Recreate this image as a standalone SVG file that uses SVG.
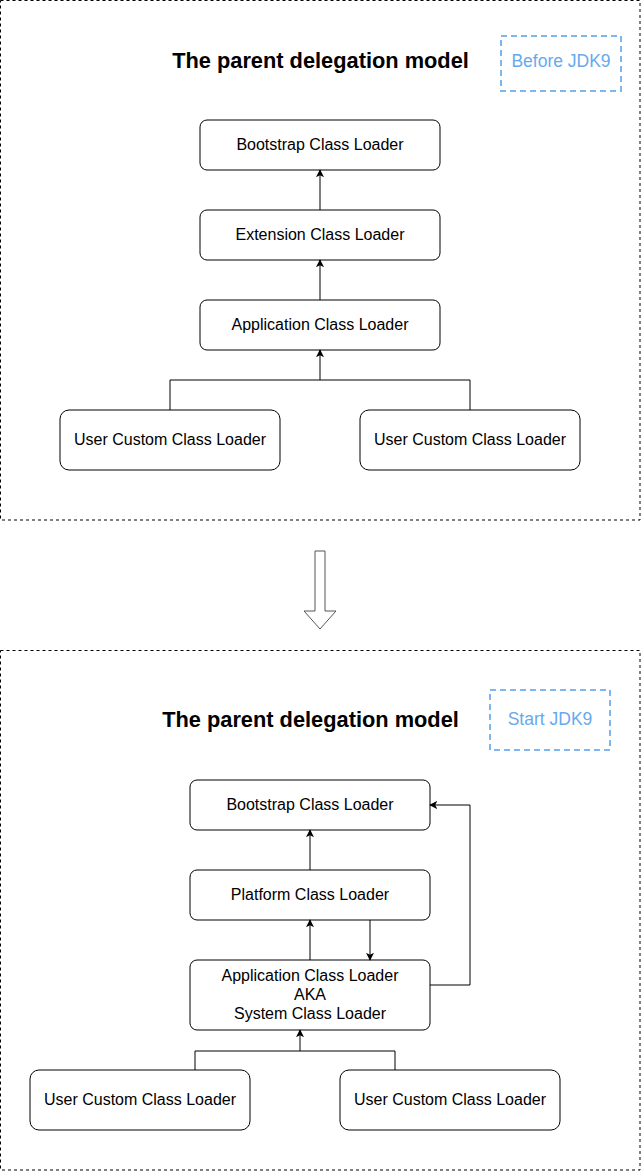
<svg xmlns="http://www.w3.org/2000/svg" width="641" height="1171" viewBox="0 0 641 1171">
<style>
.box{fill:#fff;stroke:#000;stroke-width:1}
.lbl{font-family:"Liberation Sans",Arial,sans-serif;font-size:16px;fill:#000;text-anchor:middle;dominant-baseline:central}
.title{font-family:"Liberation Sans",Arial,sans-serif;font-size:21.8px;font-weight:bold;fill:#000;text-anchor:middle;dominant-baseline:central}
.tag{fill:none;stroke:#7EB6EE;stroke-width:2;stroke-dasharray:6 4}
.tagt{font-family:"Liberation Sans",Arial,sans-serif;font-size:17.5px;fill:#66AAEE;text-anchor:middle;dominant-baseline:central}
.frame{fill:none;stroke:#000;stroke-width:1;stroke-dasharray:3 3}
.edge{fill:none;stroke:#000;stroke-width:1}
</style>
<defs>
<marker id="arr" viewBox="0 0 10 10" refX="9" refY="5" markerWidth="8" markerHeight="8" markerUnits="userSpaceOnUse" orient="auto">
<path d="M0,0 L10,5 L0,10 L2.5,5 Z" fill="#000"/>
</marker>
</defs>
<rect class="frame" x="0.5" y="0.5" width="639.5" height="519.5"/>
<rect class="frame" x="0.5" y="650.5" width="639.5" height="519.5"/>

<g id="title1"><text class="title" x="320.5" y="60">The parent delegation model</text></g>
<g id="tag1"><rect class="tag" x="501" y="36" width="120" height="55"/><text class="tagt" x="561" y="61">Before JDK9</text></g>

<g id="boot1"><rect class="box" x="200" y="120" width="240" height="50" rx="7"/><text class="lbl" x="320" y="144">Bootstrap Class Loader</text></g>
<g id="ext1"><rect class="box" x="200" y="210" width="240" height="50" rx="7"/><text class="lbl" x="320" y="234">Extension Class Loader</text></g>
<g id="app1"><rect class="box" x="200" y="300" width="240" height="50" rx="7"/><text class="lbl" x="320" y="324">Application Class Loader</text></g>
<g id="user1a"><rect class="box" x="60" y="410" width="220" height="60" rx="9"/><text class="lbl" x="170" y="439">User Custom Class Loader</text></g>
<g id="user1b"><rect class="box" x="360" y="410" width="220" height="60" rx="9"/><text class="lbl" x="470" y="439">User Custom Class Loader</text></g>

<g id="bigarrow"><path d="M315,551 L325,551 L325,611 L336,611 L320,629 L304,611 L315,611 Z" fill="#fff" stroke="#555" stroke-width="1"/></g>

<g id="title2"><text class="title" x="310.5" y="719">The parent delegation model</text></g>
<g id="tag2"><rect class="tag" x="490" y="690" width="120" height="60"/><text class="tagt" x="550" y="719">Start JDK9</text></g>

<g id="boot2"><rect class="box" x="190" y="780" width="240" height="50" rx="7"/><text class="lbl" x="310" y="804">Bootstrap Class Loader</text></g>
<g id="plat2"><rect class="box" x="190" y="870" width="240" height="50" rx="7"/><text class="lbl" x="310" y="894">Platform Class Loader</text></g>
<g id="app2"><rect class="box" x="190" y="960" width="240" height="70" rx="7"/><text class="lbl" x="310" y="975">Application Class Loader</text><text class="lbl" x="310" y="994">AKA</text><text class="lbl" x="310" y="1013">System Class Loader</text></g>
<g id="user2a"><rect class="box" x="30" y="1070" width="220" height="60" rx="9"/><text class="lbl" x="140" y="1099">User Custom Class Loader</text></g>
<g id="user2b"><rect class="box" x="340" y="1070" width="220" height="60" rx="9"/><text class="lbl" x="450" y="1099">User Custom Class Loader</text></g>

<g id="connectors">
<path class="edge" d="M320,210 L320,170" marker-end="url(#arr)"/>
<path class="edge" d="M320,300 L320,260" marker-end="url(#arr)"/>
<path class="edge" d="M170,410 L170,380 L470,380 L470,410"/>
<path class="edge" d="M320,380 L320,350" marker-end="url(#arr)"/>
<path class="edge" d="M310,870 L310,830" marker-end="url(#arr)"/>
<path class="edge" d="M310,960 L310,920" marker-end="url(#arr)"/>
<path class="edge" d="M370,920 L370,960" marker-end="url(#arr)"/>
<path class="edge" d="M430,985 L470,985 L470,805 L430,805" marker-end="url(#arr)"/>
<path class="edge" d="M195,1070 L195,1051 L395,1051 L395,1070"/>
<path class="edge" d="M300,1051 L300,1030" marker-end="url(#arr)"/>
</g>
</svg>
